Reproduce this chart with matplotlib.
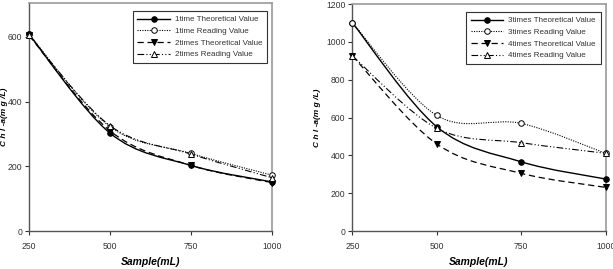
import numpy as np
import matplotlib
matplotlib.use('Agg')
import matplotlib.pyplot as plt
from matplotlib.path import Path
from matplotlib.patches import PathPatch
from matplotlib.lines import Line2D

plt.rcParams['font.family'] = ['Liberation Sans', 'DejaVu Sans']

sample = [250, 500, 750, 1000]

# left panel
t1_theo = [608, 303, 203, 152]
t1_read = [608, 323, 240, 173]
t2_theo = [605, 310, 203, 150]
t2_read = [605, 326, 238, 165]
left_names = ['1time Theoretical Value', '1time Reading Value',
              '2times Theoretical Value', '2times Reading Value']

# right panel
t3_theo = [1100, 551, 366, 275]
t3_read = [1100, 611, 569, 411]
t4_theo = [925, 460, 305, 231]
t4_read = [925, 543, 467, 411]
right_names = ['3times Theoretical Value', '3times Reading Value',
               '4times Theoretical Value', '4times Reading Value']

styles = [
    dict(ls='-', marker='o', mfc='black', lw=1.0),
    dict(ls=(0, (1, 1.2)), marker='o', mfc='white', lw=0.8),
    dict(ls=(0, (5, 3)), marker='v', mfc='black', lw=0.9),
    dict(ls=(0, (6, 2, 1, 2, 1, 2)), marker='^', mfc='white', lw=0.8),
]


def smooth_path(x, y):
    # excel-like smoothed line: cubic bezier with catmull-rom control points
    pts = np.column_stack([x, y]).astype(float)
    n = len(pts)
    verts = [pts[0]]
    codes = [Path.MOVETO]
    for i in range(n - 1):
        p0 = pts[i - 1] if i > 0 else pts[i]
        p1 = pts[i]
        p2 = pts[i + 1]
        p3 = pts[i + 2] if i + 2 < n else pts[i + 1]
        c1 = p1 + (p2 - p0) / 6.0
        c2 = p2 - (p3 - p1) / 6.0
        verts += [c1, c2, p2]
        codes += [Path.CURVE4] * 3
    return Path(verts, codes)


def draw_panel(ax, series, names, ymax, ystep, ylab_x):
    handles = []
    for ys, st, name in zip(series, styles, names):
        patch = PathPatch(smooth_path(sample, ys), transform=ax.transData,
                          fill=False, edgecolor='black', lw=st['lw'],
                          linestyle=st['ls'], zorder=3)
        ax.add_patch(patch)
        ax.plot(sample, ys, linestyle='none', marker=st['marker'], ms=4,
                mfc=st['mfc'], mec='black', mew=0.7, zorder=4, clip_on=False)
        handles.append(Line2D([], [], color='black', lw=st['lw'], ls=st['ls'],
                              marker=st['marker'], ms=4, mfc=st['mfc'],
                              mec='black', mew=0.7))
    ax.set_xlim(250, 1000)
    ax.set_ylim(0, ymax)
    ax.set_xticks(sample)
    ax.set_yticks(np.arange(0, ymax + 1, ystep))
    ax.tick_params(labelsize=6.2, length=3, width=0.8, colors='#333333',
                   direction='out', pad=5)
    ax.tick_params(axis='y', pad=2)
    for side in ['top', 'right']:
        ax.spines[side].set_color('#999999')
        ax.spines[side].set_linewidth(1.2)
    for side in ['left', 'bottom']:
        ax.spines[side].set_color('#555555')
        ax.spines[side].set_linewidth(1.0)
    ax.set_xlabel('Sample(mL)', fontsize=7.5, fontweight='bold',
                  style='italic', labelpad=4)
    ax.set_ylabel('C h l -a(m g /L)', fontsize=6.0, fontweight='bold',
                  style='italic')
    ax.yaxis.set_label_coords(ylab_x, 0.5)
    leg = ax.legend(handles, names, loc='upper right',
                    bbox_to_anchor=(0.98, 0.965), borderaxespad=0,
                    fontsize=5.8,
                    handlelength=4.0, handletextpad=0.6, labelspacing=0.5,
                    borderpad=0.6, fancybox=False, framealpha=1)
    leg.get_frame().set_edgecolor('#333333')
    leg.get_frame().set_linewidth(0.8)
    for t in leg.get_texts():
        t.set_color('#333333')


fig = plt.figure(figsize=(6.13, 2.69), dpi=100)
ax1 = fig.add_axes([0.0473, 0.141, 0.396, 0.848])
ax2 = fig.add_axes([0.575, 0.141, 0.413, 0.844])

draw_panel(ax1, [t1_theo, t1_read, t2_theo, t2_read], left_names, 705, 200, -0.087)
draw_panel(ax2, [t3_theo, t3_read, t4_theo, t4_read], right_names, 1200, 200, -0.125)

fig.savefig('out.png', dpi=100)
